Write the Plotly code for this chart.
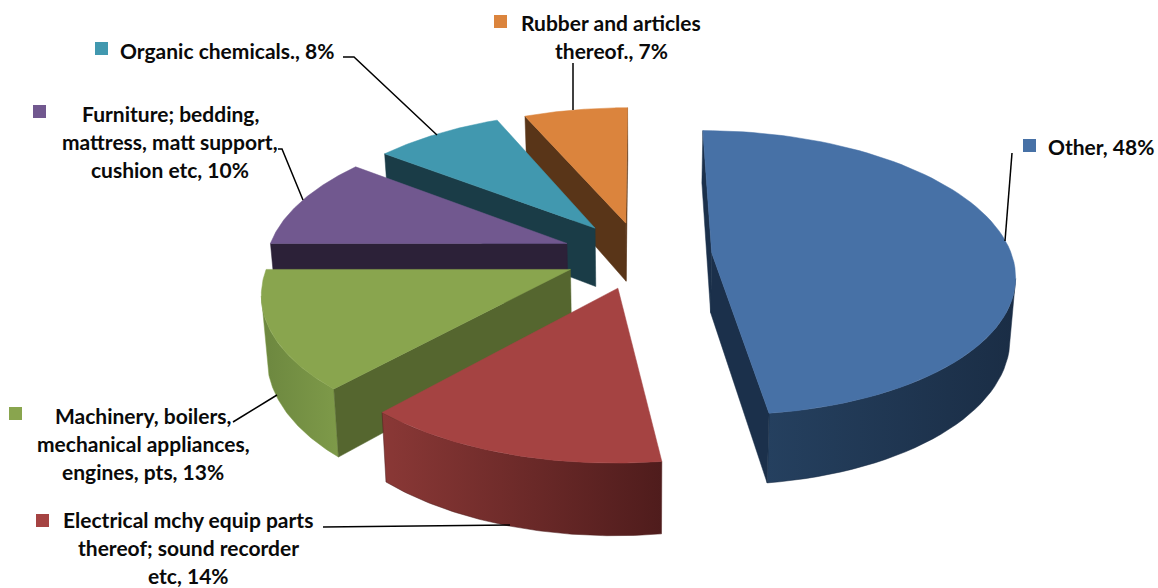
import numpy as np
import plotly.graph_objects as go

categories = ["Other", "Electrical mchy equip parts thereof; sound recorder etc",
              "Machinery, boilers, mechanical appliances, engines, pts",
              "Furniture; bedding, mattress, matt support, cushion etc",
              "Organic chemicals.", "Rubber and articles thereof."]
# they round to the printed percentages
shares = [47.9, 13.8, 13.3, 10.4, 8.1, 6.5]
explode = [0.24, 0.24, 0.25, 0.26, 0.25, 0.24]

top_colors = ["#4771A6", "#A54342", "#89A54E", "#71588F", "#4198AF", "#DB843D"]
edge_colors = ["#1B304B", "#561F1F", "#55662F", "#2C2138", "#1A3C47", "#593518"]
rim_left = ["#25405F", "#8A3836", "#6C873F", "#2C2138", "#1A3C47", "#593518"]
rim_right = ["#1A2D45", "#4F1C1C", "#7E9A49", "#2C2138", "#1A3C47", "#593518"]

label_lines = [
    ["Other, 48%"],
    ["Electrical mchy equip parts", "thereof; sound recorder", "etc, 14%"],
    ["Machinery, boilers,", "mechanical appliances,", "engines, pts, 13%"],
    ["Furniture; bedding,", "mattress, matt support,", "cushion etc, 10%"],
    ["Organic chemicals., 8%"],
    ["Rubber and articles", "thereof., 7%"],
]
label_x = [1101, 188, 143, 170, 227, 611]
label_y = [146, 519, 415, 113, 50, 22]
line_gap = 28
key_x = [1029.5, 42.5, 15.5, 39.5, 101.5, 500.5]
key_y = [145.5, 520.5, 413.5, 111.5, 48.5, 21.5]
leader_x = [[1012, 1005], [323, 510], [233, 277], [278, 282, 303], [343, 354, 437], [573, 573]]
leader_y = [[153, 241], [527, 525], [422, 395], [149, 149, 200], [57, 57, 135], [63, 110]]

# how the tilted pie plane lands on the page
CX, CY = 640, 255
SX, SY = 300, 140
PERSP = 0.141
DEPTH = 60
BOTTOM_SHRINK = 0.985


def project(u, v, bottom=False):
    u, v = np.asarray(u, float), np.asarray(v, float)
    w = 1 + PERSP * v
    k = BOTTOM_SHRINK if bottom else 1.0
    x = CX + k * SX * u / w
    y = CY - SY * v / w + (DEPTH / w if bottom else 0)
    return x, y


def polygon(xs, ys, color, gradient=None):
    kw = {}
    if gradient:
        kw["fillgradient"] = dict(type="horizontal", colorscale=[[0, gradient[0]], [1, gradient[1]]])
    else:
        kw["fillcolor"] = color
    return go.Scatter(x=list(xs) + [xs[0]], y=list(ys) + [ys[0]], mode="lines", fill="toself",
                      line=dict(color=color, width=0.5), hoverinfo="skip", showlegend=False, **kw)


fig = go.Figure()

cum = np.cumsum([0] + shares) / sum(shares) * 2 * np.pi
cam = np.array([0, -1 / PERSP])

for i in [5, 4, 3, 2, 1, 0]:
    a0, a1 = cum[i], cum[i + 1]
    mid = (a0 + a1) / 2
    apex = explode[i] * np.array([np.sin(mid), np.cos(mid)])
    t = np.linspace(a0, a1, 80)
    ru, rv = apex[0] + np.sin(t), apex[1] + np.cos(t)

    # outer wall, only the part that looks at the camera
    facing = (cam[0] - ru) * np.sin(t) + (cam[1] - rv) * np.cos(t) > 0
    if facing.sum() > 1:
        xt, yt = project(ru[facing], rv[facing])
        xb, yb = project(ru[facing], rv[facing], bottom=True)
        fig.add_trace(polygon(np.r_[xt, xb[::-1]], np.r_[yt, yb[::-1]], rim_right[i],
                              gradient=(rim_left[i], rim_right[i])))

    # the two cut faces
    for a, side in ((a0, -1), (a1, 1)):
        normal = np.array([np.sin(a + side * np.pi / 2), np.cos(a + side * np.pi / 2)])
        if normal @ (cam - apex) <= 0:
            continue
        eu, ev = apex[0] + np.sin(a), apex[1] + np.cos(a)
        xt, yt = project([apex[0], eu], [apex[1], ev])
        xb, yb = project([apex[0], eu], [apex[1], ev], bottom=True)
        fig.add_trace(polygon(np.r_[xt, xb[::-1]], np.r_[yt, yb[::-1]], edge_colors[i]))

    # top face
    xt, yt = project(np.r_[apex[0], ru], np.r_[apex[1], rv])
    fig.add_trace(polygon(xt, yt, top_colors[i]))

for lx, ly in zip(leader_x, leader_y):
    fig.add_trace(go.Scatter(x=lx, y=ly, mode="lines", line=dict(color="#000000", width=1.5),
                             hoverinfo="skip", showlegend=False))

fig.add_trace(go.Scatter(x=key_x, y=key_y, mode="markers",
                         marker=dict(symbol="square", size=13, color=top_colors, line=dict(width=0)),
                         hoverinfo="skip", showlegend=False))

for lines, lx, ly in zip(label_lines, label_x, label_y):
    for n, text in enumerate(lines):
        fig.add_annotation(x=lx, y=ly + n * line_gap, text=f"<b>{text}</b>", showarrow=False,
                           xanchor="center", yanchor="middle", xref="x", yref="y",
                           font=dict(family="Lato, sans-serif", size=21, color="#0A0A0A"))

fig.update_xaxes(range=[0, 1158], visible=False, fixedrange=True)
fig.update_yaxes(range=[588, 0], visible=False, fixedrange=True)
fig.update_layout(width=1158, height=588, margin=dict(l=0, r=0, t=0, b=0),
                  paper_bgcolor="#FFFFFF", plot_bgcolor="#FFFFFF", showlegend=False)

# the page's default body margin would push the plot 8px in
fig.write_html("out.html", config={"displayModeBar": False},
               post_script="document.body.style.margin='0';")
